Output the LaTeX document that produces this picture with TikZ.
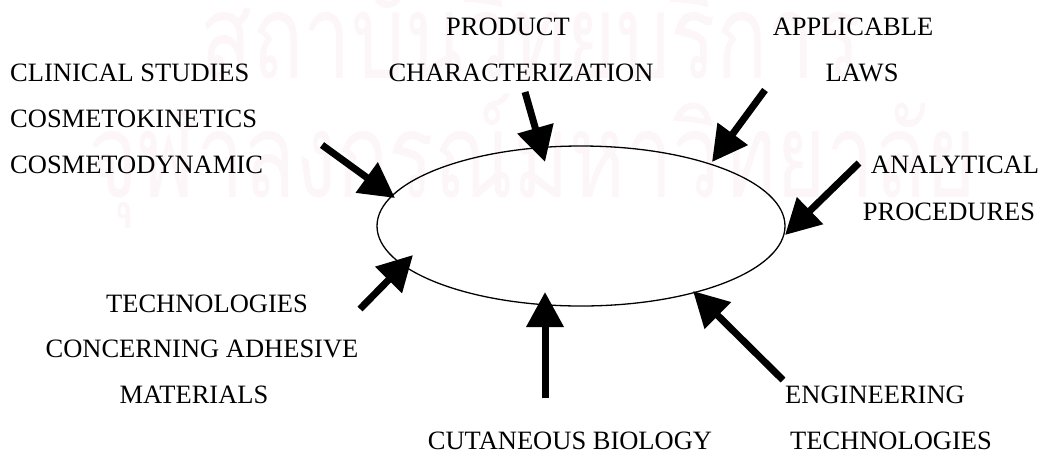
\documentclass[tikz,border=0pt]{standalone}
\usepackage{fontspec}
\setmainfont{Liberation Serif}
\newfontfamily\thaifont[Script=Thai]{Loma}
\usetikzlibrary{arrows.meta,shapes.geometric}
\definecolor{wm}{rgb}{0.99,0.965,0.978}
\tikzset{
  lbl/.style={font=\fontsize{26.5}{30}\selectfont, inner sep=0pt, anchor=base},
  lblw/.style={lbl, anchor=base west},
  bigarrow/.style={line width=7pt, -{Triangle[width=36pt,length=35pt]}},
  wmark/.style={font=\thaifont\fontsize{118}{120}\selectfont, text=wm, inner sep=0pt, anchor=base west},
  ring/.style={ellipse, draw, line width=1.3pt, minimum width=408pt, minimum height=160pt, inner sep=0pt}
}
\begin{document}
\begin{tikzpicture}[x=1pt,y=-1pt]
\useasboundingbox (0,0) rectangle (1046,451);
% watermark
\node[wmark] (wm1) at (200,78) {\scalebox{0.72}[1]{สถาบันวิทยบริการ}};
\node[wmark] (wm2) at (88,197) {\scalebox{0.72}[1]{จุฬาลงกรณ์มหาวิทยาลัย}};
% central ellipse
\node[ring] (E) at (581,226) {};
% labels
\node[lbl] (prod1) at (508,35) {PRODUCT};
\node[lbl] (prod2) at (521,81) {CHARACTERIZATION};
\node[lbl] (law1) at (853,35) {APPLICABLE};
\node[lbl] (law2) at (862,81) {LAWS};
\node[lblw] (cli1) at (10,81) {CLINICAL STUDIES};
\node[lblw] (cli2) at (10,127) {COSMETOKINETICS};
\node[lblw] (cli3) at (10,173) {COSMETODYNAMIC};
\node[lbl] (ana1) at (955,173) {ANALYTICAL};
\node[lbl] (ana2) at (949,220) {PROCEDURES};
\node[lbl] (tec1) at (207,312) {TECHNOLOGIES};
\node[lbl] (tec2) at (202,357) {CONCERNING ADHESIVE};
\node[lbl] (tec3) at (194,403) {MATERIALS};
\node[lbl] (eng1) at (875,403) {ENGINEERING};
\node[lbl] (eng2) at (891,449) {TECHNOLOGIES};
\node[lbl] (cut) at (570,449) {CUTANEOUS BIOLOGY};
% arrow ends
\coordinate (aCliT) at (322,145); \coordinate (aCliH) at (395,198);
\coordinate (aProT) at (525,92);  \coordinate (aProH) at (545,162);
\coordinate (aLawT) at (765,90);  \coordinate (aLawH) at (712,162);
\coordinate (aAnaT) at (859,163); \coordinate (aAnaH) at (785,235);
\coordinate (aTecT) at (360,309); \coordinate (aTecH) at (413,255);
\coordinate (aCutT) at (545,398); \coordinate (aCutH) at (545,292);
\coordinate (aEngT) at (783,380); \coordinate (aEngH) at (693,291);
\draw[bigarrow] (aCliT) -- (aCliH);
\draw[bigarrow] (aProT) -- (aProH);
\draw[bigarrow] (aLawT) -- (aLawH);
\draw[bigarrow] (aAnaT) -- (aAnaH);
\draw[bigarrow] (aTecT) -- (aTecH);
\draw[bigarrow] (aCutT) -- (aCutH);
\draw[bigarrow] (aEngT) -- (aEngH);
\end{tikzpicture}
\end{document}
